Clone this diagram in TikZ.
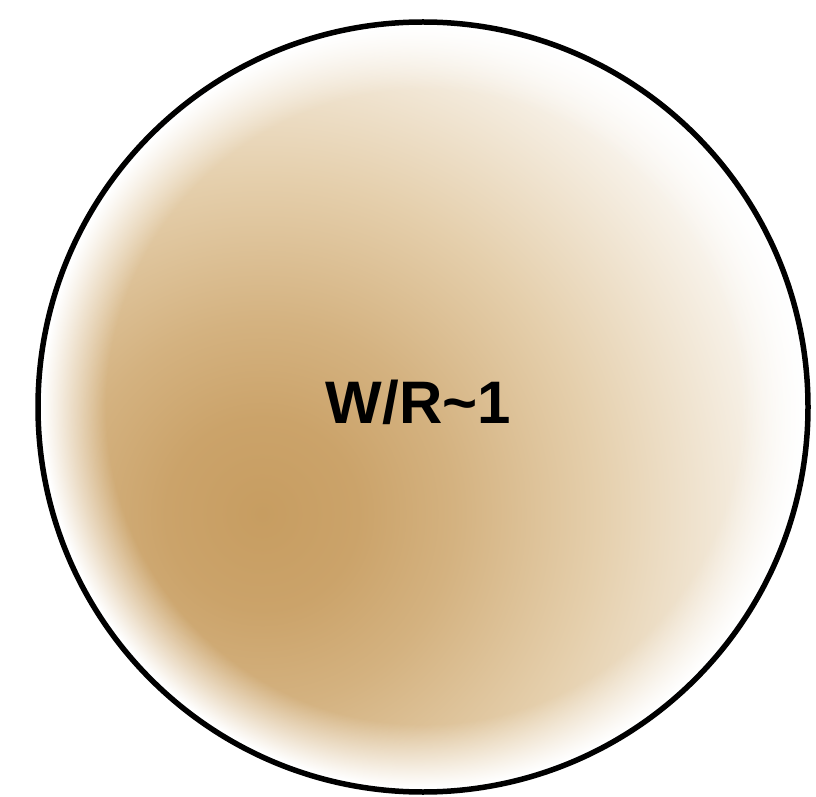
\documentclass[tikz,border=0pt]{standalone}
\usepackage{fontspec}
\setmainfont{Liberation Sans}
\usetikzlibrary{fadings}
\definecolor{c0}{RGB}{199,157,97}
\definecolor{c0b}{RGB}{203,163,106}
\definecolor{c1}{RGB}{212,178,128}
\definecolor{c2}{RGB}{229,207,172}
\definecolor{c3}{RGB}{248,243,235}
\pgfdeclareradialshading{spot}{\pgfpointorigin}{color(0bp)=(c0); color(4bp)=(c0b); color(8bp)=(c1); color(14bp)=(c2); color(21.5bp)=(c3); color(25bp)=(white); color(50bp)=(white)}
\pgfdeclareradialshading{edgeshade}{\pgfpointorigin}{color(0bp)=(black); color(20.5bp)=(black); color(22.8bp)=(black!45); color(24.6bp)=(white); color(50bp)=(white)}
\pgfdeclarefading{edgefade}{\pgfuseshading{edgeshade}}
\tikzset{
  rim/.style={draw=black, line width=5.5pt},
  lbl/.style={font=\bfseries\fontsize{60pt}{60pt}\selectfont, inner sep=0pt, anchor=base}
}
\begin{document}
\begin{tikzpicture}[x=1pt,y=1pt]
\useasboundingbox (0,0) rectangle (816,796);
\fill[white] (0,0) rectangle (816,796);
\coordinate (C) at (423,389);
\coordinate (S) at (262,282);
\begin{scope}
  \clip (C) circle (385);
  \shade[shading=spot] (S) circle (600);
  \fill[white, path fading=edgefade] (C) circle (385);
\end{scope}
\draw[rim] (C) circle (385);
\node[lbl] (label) at (418.5,373) {W/R\textasciitilde 1};
\end{tikzpicture}
\end{document}
